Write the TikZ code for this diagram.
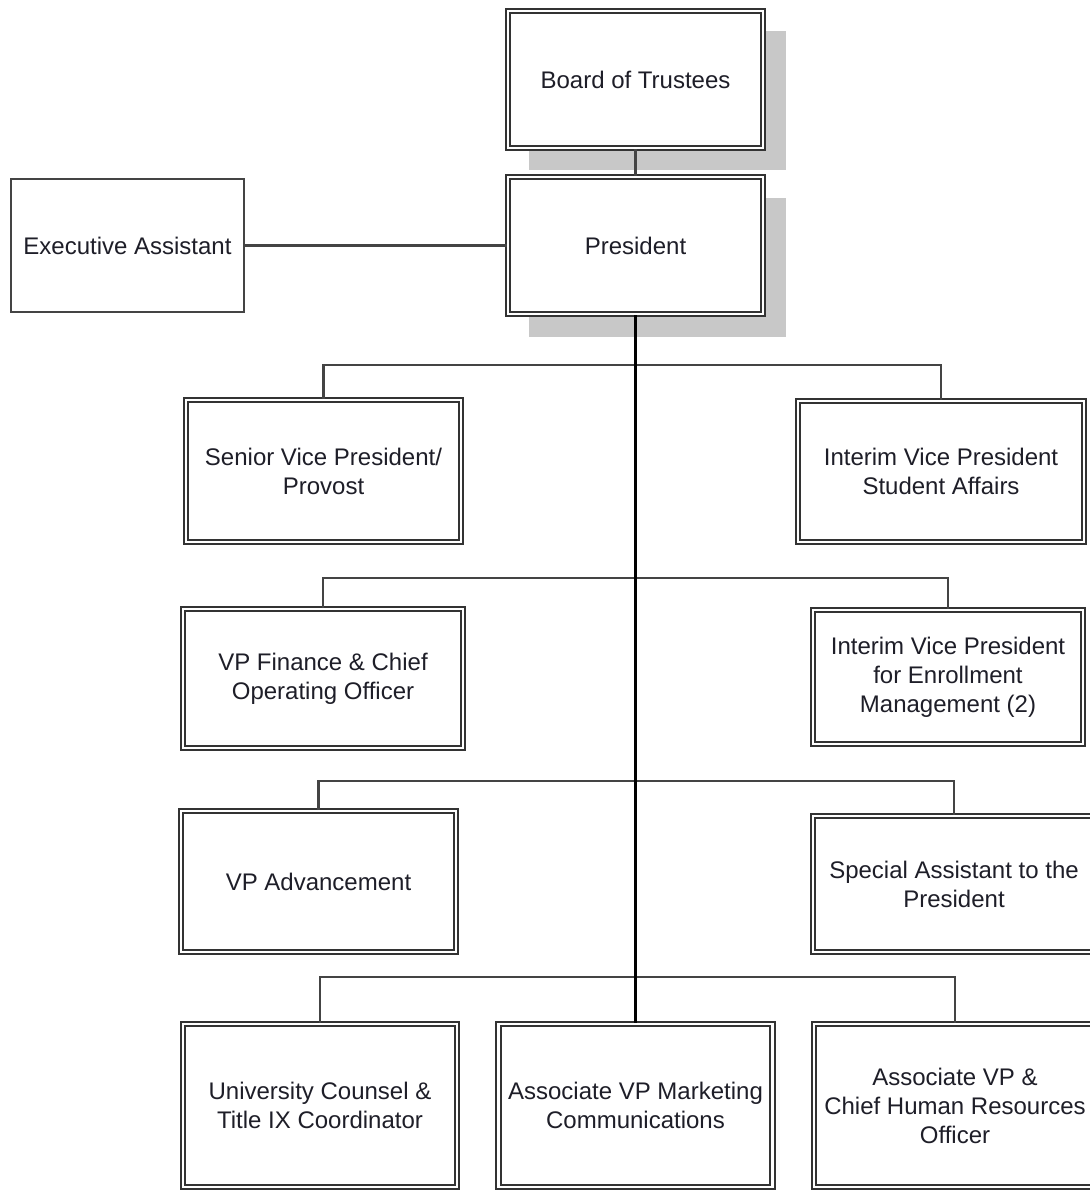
\documentclass[tikz,border=0pt]{standalone}
\usepackage{fontspec}
\setmainfont{Liberation Sans}
\pgfdeclarelayer{bg}
\pgfsetlayers{bg,main}
\definecolor{boxline}{HTML}{333333}
\definecolor{connline}{HTML}{444444}
\definecolor{shadowgray}{HTML}{C8C8C8}
\definecolor{textcol}{HTML}{1E1E28}
\tikzset{
  orgbox/.style={draw=boxline, line width=2pt, double=white, double distance=2.2pt,
    fill=white, align=center, inner sep=0pt, text=textcol,
    font=\fontsize{24}{29}\selectfont},
  plainbox/.style={draw=connline, line width=2.2pt, fill=white, align=center,
    inner sep=0pt, text=textcol, font=\fontsize{24}{29}\selectfont},
  conn/.style={draw=connline, line width=2.2pt},
  trunk/.style={draw=black, line width=3.2pt},
  shadowfill/.style={fill=shadowgray}
}
\begin{document}
\begin{tikzpicture}[x=1pt,y=-1pt]
\useasboundingbox (0,0) rectangle (1090,1192);
\clip (0,0) rectangle (1090,1192);

% nodes (outer sizes reduced by border width)
\node[orgbox, minimum width=255pt, minimum height=137pt] (bot) at (635.5,79.5) {Board of Trustees};
\node[orgbox, minimum width=255pt, minimum height=137pt] (pres) at (635.5,245.5) {President};
\node[plainbox, minimum width=233pt, minimum height=133pt] (ea) at (127.5,245.5) {Executive Assistant};

\node[orgbox, minimum width=275pt, minimum height=142pt] (svp) at (323.5,471) {Senior Vice President/\\Provost};
\node[orgbox, minimum width=286pt, minimum height=141pt] (ivsa) at (941,471.5) {Interim Vice President\\Student Affairs};

\node[orgbox, minimum width=280pt, minimum height=139pt] (vpf) at (323,678.5) {VP Finance \& Chief\\Operating Officer};
\node[orgbox, minimum width=270pt, minimum height=134pt] (ivpe) at (948,677) {Interim Vice President\\for Enrollment\\Management (2)};

\node[orgbox, minimum width=275pt, minimum height=141pt] (vpa) at (318.5,881.5) {VP Advancement};
\node[orgbox, minimum width=282pt, minimum height=136pt] (sa) at (954,884) {Special Assistant to the\\President};

\node[orgbox, minimum width=274pt, minimum height=163pt] (uc) at (320,1105.5) {University Counsel \&\\Title IX Coordinator};
\node[orgbox, minimum width=274pt, minimum height=163pt] (amc) at (635.5,1105.5) {Associate VP Marketing\\Communications};
\node[orgbox, minimum width=282pt, minimum height=163pt] (ahr) at (955,1105.5) {Associate VP \&\\Chief Human Resources\\Officer};

% background and shadows behind top boxes
\begin{pgfonlayer}{bg}
\fill[white] (0,0) rectangle (1090,1192);
\fill[shadowfill] ([shift={(22,21)}]bot.north west) rectangle ([shift={(22,21)}]bot.south east);
\fill[shadowfill] ([shift={(22,22)}]pres.north west) rectangle ([shift={(22,22)}]pres.south east);
\end{pgfonlayer}

% bus coordinates
\coordinate (b1) at (635.5,365);
\coordinate (b2) at (635.5,578);
\coordinate (b3) at (635.5,781);
\coordinate (b4) at (635.5,977);

% connectors
\draw[conn] (bot.south) -- (pres.north);
\draw[conn] (ea.east) -- (pres.west);
\draw[conn] (svp.north) |- (b1) -| (ivsa.north);
\draw[conn] (vpf.north) |- (b2) -| (ivpe.north);
\draw[conn] (vpa.north) |- (b3) -| (sa.north);
\draw[conn] (uc.north) |- (b4) -| (ahr.north);
\draw[trunk] (pres.south) -- (amc.north);
\end{tikzpicture}
\end{document}
